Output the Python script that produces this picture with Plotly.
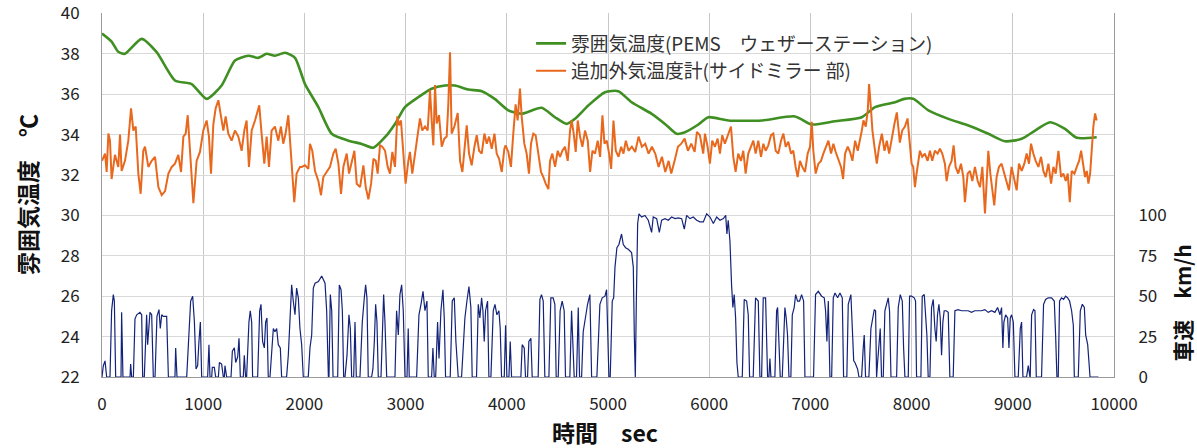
import plotly.graph_objects as go

# 雰囲気温度(PEMS ウェザーステーション): (time s, temp °C)
pems_points = [
    (0, 39.0), (95, 38.6), (160, 38.1), (227, 38.0), (391, 38.74), (540, 38.08), (721, 36.68), (886, 36.5),
    (1034, 35.77), (1182, 36.43), (1314, 37.67), (1446, 37.9), (1544, 37.8), (1627, 38.0), (1709, 37.9),
    (1808, 38.05), (1907, 37.8), (2006, 36.5), (2138, 35.36), (2270, 34.04), (2434, 33.7), (2566, 33.54),
    (2681, 33.35), (2796, 33.87), (2895, 34.53), (2994, 35.36), (3125, 35.85), (3257, 36.27), (3389, 36.43),
    (3488, 36.43), (3620, 36.23), (3752, 36.15), (3880, 35.77), (4015, 35.2), (4146, 35.03), (4344, 35.33),
    (4476, 34.86), (4591, 34.53), (4674, 34.78), (4805, 35.44), (4970, 36.1), (5102, 36.15), (5234, 35.6),
    (5432, 35.03), (5563, 34.53), (5679, 34.04), (5761, 34.12), (5893, 34.5), (5991, 34.86), (6189, 34.7),
    (6519, 34.7), (6848, 34.9), (7013, 34.5), (7243, 34.66), (7507, 34.86), (7639, 35.36), (7836, 35.6),
    (7928, 35.77), (8017, 35.77), (8166, 35.2), (8363, 34.78), (8561, 34.45), (8758, 34.04), (8923, 33.67),
    (9088, 33.79), (9220, 34.2), (9368, 34.61), (9516, 34.28), (9632, 33.84), (9829, 33.87),
]

# 追加外気温度計(サイドミラー部): (time s, temp °C)
mirror_points = [
    (0, 32.7), (30, 33.06), (46, 32.15), (63, 34.05), (79, 33.7), (95, 31.8), (128, 33.0), (161, 32.4), (178, 34.0), (194, 32.2),
    (227, 32.7), (260, 33.7), (287, 35.3), (310, 34.2), (333, 34.4), (359, 32.07), (382, 31.07), (408, 33.2), (425, 33.4), (458, 32.4),
    (491, 32.7), (524, 32.9), (557, 31.4), (590, 31.0), (623, 31.2), (656, 32.07), (689, 32.4), (721, 32.56), (754, 33.0), (781, 32.15),
    (804, 33.9), (827, 34.05), (847, 34.96), (864, 33.7), (886, 31.57), (903, 30.6), (935, 32.7), (968, 33.14), (1001, 34.2), (1034, 34.7),
    (1057, 33.9), (1077, 32.07), (1100, 34.5), (1123, 35.3), (1150, 35.7), (1176, 34.9), (1199, 34.2), (1222, 34.9), (1248, 34.05), (1281, 33.7),
    (1314, 34.2), (1347, 33.9), (1380, 33.2), (1406, 34.2), (1429, 34.7), (1452, 32.4), (1479, 34.2), (1512, 34.7), (1535, 35.2), (1554, 35.45),
    (1577, 34.05), (1604, 32.56), (1627, 33.9), (1650, 32.4), (1676, 34.2), (1709, 34.4), (1742, 33.7), (1768, 34.4), (1791, 33.55), (1814, 34.05),
    (1841, 34.96), (1867, 33.06), (1883, 31.7), (1900, 30.66), (1923, 32.07), (1956, 32.4), (1973, 32.4), (2006, 32.48), (2039, 32.3), (2055, 33.55),
    (2078, 33.2), (2105, 32.2), (2138, 31.7), (2164, 31.0), (2187, 31.9), (2220, 32.15), (2253, 32.4), (2286, 33.06), (2309, 33.3), (2336, 32.56),
    (2362, 31.07), (2385, 32.4), (2418, 33.06), (2441, 32.07), (2468, 32.7), (2494, 33.2), (2517, 31.57), (2550, 31.4), (2583, 32.48), (2606, 31.4),
    (2632, 30.8), (2659, 31.57), (2682, 32.8), (2705, 32.7), (2724, 32.07), (2747, 33.47), (2770, 33.4), (2797, 33.2), (2823, 32.4), (2846, 32.07),
    (2869, 33.14), (2895, 32.4), (2918, 34.9), (2935, 34.46), (2954, 34.7), (2977, 33.06), (3000, 31.57), (3027, 32.7), (3043, 33.14), (3066, 32.07),
    (3093, 33.06), (3119, 33.9), (3142, 34.8), (3165, 34.2), (3192, 34.4), (3218, 34.2), (3241, 36.2), (3258, 34.7), (3274, 33.47), (3291, 36.45),
    (3307, 34.55), (3330, 34.96), (3357, 33.4), (3383, 33.8), (3406, 33.9), (3422, 35.5), (3439, 38.07), (3455, 34.05), (3482, 34.4), (3515, 35.07),
    (3538, 32.7), (3561, 32.15), (3587, 33.55), (3604, 34.46), (3627, 33.06), (3653, 32.48), (3680, 33.4), (3703, 33.97), (3726, 33.2), (3752, 33.06),
    (3779, 34.05), (3802, 33.55), (3825, 33.9), (3851, 33.3), (3878, 34.05), (3900, 33.06), (3924, 32.8), (3950, 32.15), (3976, 33.3), (3988, 33.47),
    (4015, 33.14), (4041, 32.4), (4064, 34.05), (4087, 35.5), (4107, 34.7), (4130, 36.28), (4147, 34.9), (4173, 33.55), (4196, 33.06), (4219, 32.07),
    (4239, 33.55), (4262, 34.05), (4285, 33.97), (4312, 33.06), (4338, 32.15), (4361, 31.9), (4384, 31.57), (4411, 31.3), (4427, 32.7), (4450, 33.06),
    (4477, 32.4), (4503, 33.2), (4526, 32.9), (4549, 33.2), (4575, 33.4), (4602, 32.7), (4625, 34.2), (4641, 34.7), (4661, 34.05), (4681, 33.14),
    (4701, 34.7), (4724, 33.9), (4747, 33.4), (4773, 34.2), (4800, 33.7), (4823, 32.15), (4846, 33.2), (4872, 33.06), (4898, 33.7), (4922, 32.9),
    (4945, 34.96), (4965, 33.55), (4988, 33.7), (5011, 33.06), (5031, 32.3), (5054, 34.7), (5077, 33.2), (5104, 32.9), (5130, 33.4), (5153, 33.06),
    (5176, 33.7), (5203, 33.2), (5236, 33.4), (5269, 33.14), (5302, 33.9), (5335, 33.4), (5368, 33.55), (5401, 33.06), (5434, 33.4), (5467, 33.06),
    (5500, 32.4), (5533, 32.9), (5566, 32.15), (5599, 32.7), (5625, 32.07), (5658, 32.7), (5691, 33.4), (5724, 33.55), (5757, 33.8), (5790, 33.2),
    (5823, 33.55), (5856, 33.14), (5879, 34.13), (5908, 33.97), (5941, 33.06), (5958, 34.05), (5984, 33.4), (6007, 32.56), (6030, 33.7), (6057, 33.4),
    (6083, 33.8), (6106, 33.06), (6129, 33.97), (6155, 33.55), (6188, 34.05), (6215, 34.4), (6238, 32.9), (6261, 32.15), (6287, 33.06), (6314, 32.7),
    (6337, 33.2), (6360, 32.07), (6386, 33.06), (6413, 33.4), (6436, 33.7), (6459, 33.06), (6485, 33.7), (6512, 32.9), (6535, 33.55), (6558, 33.2),
    (6584, 33.47), (6611, 33.97), (6634, 34.05), (6657, 33.2), (6683, 33.06), (6710, 33.7), (6733, 34.05), (6756, 33.4), (6782, 33.65), (6808, 33.06),
    (6831, 33.2), (6854, 32.4), (6874, 31.9), (6897, 32.7), (6920, 32.4), (6947, 32.15), (6973, 33.06), (6996, 33.4), (7013, 34.63), (7029, 33.2),
    (7052, 32.07), (7079, 32.56), (7105, 32.7), (7128, 33.06), (7151, 33.4), (7178, 33.7), (7204, 33.06), (7227, 33.55), (7250, 33.14), (7277, 32.7),
    (7303, 32.4), (7323, 31.8), (7343, 33.06), (7369, 33.4), (7392, 33.14), (7415, 32.7), (7442, 33.7), (7468, 33.2), (7491, 33.7), (7508, 34.2),
    (7524, 34.7), (7547, 34.4), (7567, 35.2), (7580, 36.5), (7597, 35.37), (7613, 34.2), (7633, 33.4), (7656, 32.56), (7679, 33.4), (7706, 34.05),
    (7732, 33.2), (7755, 33.7), (7778, 33.06), (7805, 33.9), (7831, 34.55), (7854, 35.1), (7868, 34.4), (7884, 33.6), (7907, 34.2), (7934, 34.4),
    (7960, 34.8), (7983, 33.6), (8000, 32.56), (8016, 32.4), (8033, 31.4), (8049, 32.07), (8066, 32.56), (8082, 33.2), (8105, 32.9), (8131, 33.06),
    (8158, 32.7), (8181, 33.2), (8204, 32.7), (8230, 33.2), (8257, 33.06), (8280, 33.3), (8303, 33.06), (8329, 32.56), (8346, 31.7), (8369, 32.4),
    (8395, 32.7), (8415, 33.47), (8435, 32.4), (8461, 32.07), (8488, 32.56), (8511, 31.9), (8527, 30.66), (8554, 32.07), (8577, 32.2), (8600, 31.7),
    (8626, 32.4), (8653, 31.7), (8676, 31.4), (8699, 32.4), (8725, 30.1), (8744, 31.7), (8758, 33.2), (8778, 32.07), (8797, 31.4), (8817, 30.5),
    (8840, 31.9), (8863, 32.4), (8889, 32.56), (8916, 32.07), (8939, 31.57), (8962, 31.24), (8988, 32.4), (9015, 31.7), (9038, 31.24), (9061, 32.56),
    (9088, 32.2), (9114, 32.56), (9137, 33.06), (9160, 32.56), (9180, 33.55), (9203, 33.06), (9226, 32.7), (9253, 32.4), (9279, 32.9), (9302, 32.2),
    (9325, 31.9), (9352, 32.56), (9378, 31.57), (9401, 32.4), (9424, 32.07), (9451, 33.2), (9477, 31.9), (9500, 32.07), (9523, 31.7), (9543, 32.07),
    (9563, 30.66), (9582, 32.2), (9609, 32.07), (9632, 32.4), (9655, 32.7), (9675, 33.2), (9691, 32.56), (9714, 31.9), (9731, 32.2), (9747, 31.57),
    (9764, 32.07), (9780, 33.4), (9796, 34.4), (9813, 35.05), (9829, 34.7),
]

# 車速 km/h: (time s, speed)
speed_points = [
    (0, 0), (13, 7), (30, 10), (46, 0), (79, 0), (95, 41), (112, 51), (122, 47), (135, 0), (188, 0), (194, 40), (207, 0),
    (277, 0), (283, 8), (293, 0), (310, 0), (326, 36), (343, 38.5), (375, 40), (392, 38.5), (402, 0), (418, 0), (441, 38.5),
    (451, 20), (474, 40), (491, 38.5), (507, 0), (524, 0), (543, 37.5), (563, 41.7), (576, 30), (590, 38.5), (606, 37.5),
    (639, 37.5), (656, 0), (721, 0), (728, 18), (741, 0), (837, 0), (860, 30), (876, 47), (896, 50), (913, 34), (929, 5),
    (945, 7), (958, 22), (972, 34), (985, 0), (1044, 0), (1057, 20), (1067, 0), (1084, 0), (1090, 6), (1110, 6), (1123, 0),
    (1150, 0), (1160, 9), (1182, 8), (1199, 0), (1209, 0), (1215, 7), (1232, 0), (1275, 0), (1288, 16), (1308, 18), (1321, 9),
    (1341, 12.5), (1354, 24), (1367, 0), (1396, 0), (1406, 13.5), (1419, 0), (1429, 0), (1452, 34), (1465, 41), (1479, 34),
    (1488, 0), (1538, 0), (1558, 41), (1571, 45), (1587, 22), (1604, 18), (1617, 34), (1630, 36.5), (1643, 0), (1660, 0),
    (1676, 13.5), (1693, 30), (1709, 28), (1726, 30), (1742, 20), (1762, 18), (1775, 0), (1824, 0), (1841, 13.5), (1857, 34),
    (1874, 57), (1890, 47), (1907, 38.5), (1923, 55), (1940, 49), (1956, 30), (1973, 20), (1989, 0), (2038, 0), (2055, 18),
    (2072, 26), (2088, 55), (2105, 58), (2138, 59), (2171, 62.5), (2204, 58), (2220, 41), (2237, 0), (2243, 0), (2256, 51),
    (2270, 41), (2283, 0), (2329, 0), (2345, 57), (2362, 54), (2375, 41), (2388, 0), (2401, 0), (2421, 13.5), (2440, 38.5),
    (2454, 30), (2467, 0), (2487, 0), (2500, 34), (2513, 0), (2549, 0), (2572, 34), (2592, 49), (2605, 57), (2618, 49),
    (2631, 0), (2664, 0), (2677, 5), (2691, 22), (2704, 45), (2717, 34), (2730, 0), (2757, 0), (2773, 41), (2783, 51),
    (2796, 34), (2813, 0), (2895, 0), (2911, 41), (2928, 26), (2944, 51), (2961, 57), (2977, 41), (2994, 0), (3014, 0),
    (3026, 30), (3036, 0), (3109, 0), (3132, 38.5), (3152, 45), (3172, 53), (3191, 41), (3211, 47), (3224, 0), (3257, 0),
    (3270, 18), (3283, 0), (3297, 0), (3316, 34), (3330, 11.5), (3349, 41), (3369, 54), (3382, 36.5), (3395, 0), (3441, 0),
    (3461, 47), (3481, 49), (3497, 22), (3510, 11.5), (3520, 0), (3553, 0), (3586, 36.5), (3606, 47), (3626, 56), (3645, 43),
    (3658, 0), (3701, 0), (3718, 45), (3734, 36.5), (3751, 49), (3764, 41), (3777, 22), (3790, 41), (3810, 47), (3823, 0),
    (3843, 0), (3866, 41), (3883, 45), (3902, 38.5), (3922, 41), (3935, 30), (3948, 0), (3975, 0), (3988, 32), (4001, 0),
    (4021, 0), (4034, 22), (4047, 0), (4139, 0), (4152, 20), (4172, 18), (4185, 0), (4205, 0), (4218, 22), (4238, 24),
    (4251, 0), (4310, 0), (4327, 48), (4343, 51), (4360, 47), (4376, 0), (4416, 0), (4435, 49), (4458, 49), (4475, 45),
    (4488, 0), (4508, 0), (4527, 41), (4547, 47), (4567, 41), (4580, 0), (4623, 0), (4640, 41), (4653, 22), (4666, 0),
    (4689, 0), (4706, 43), (4719, 0), (4739, 0), (4755, 28), (4778, 38.5), (4798, 45), (4821, 51), (4838, 0), (4890, 0),
    (4905, 30), (4920, 45), (4943, 49), (4970, 50), (4986, 54), (4996, 26), (5009, 0), (5022, 0), (5042, 47), (5056, 49),
    (5069, 68), (5088, 80), (5108, 82), (5134, 88.5), (5151, 82), (5174, 80), (5200, 79), (5233, 77), (5250, 68), (5260, 26),
    (5270, 0), (5280, 47), (5293, 95), (5306, 101), (5332, 99), (5365, 100), (5398, 97), (5431, 89.5), (5447, 99), (5481, 98),
    (5507, 89.5), (5530, 97), (5563, 98), (5596, 97), (5629, 99), (5662, 98), (5695, 98.5), (5728, 98), (5754, 91.5), (5777, 100),
    (5810, 98), (5843, 99), (5876, 97), (5909, 96), (5942, 96), (5975, 101), (6008, 99), (6041, 95), (6074, 99), (6107, 97),
    (6140, 98), (6163, 100), (6175, 88.5), (6188, 97), (6205, 84), (6221, 57), (6234, 43), (6247, 51), (6261, 36.5), (6274, 9),
    (6287, 0), (6327, 0), (6346, 48), (6370, 47), (6386, 38.5), (6399, 0), (6435, 0), (6458, 49), (6485, 47), (6501, 0),
    (6518, 0), (6534, 49), (6557, 49), (6577, 0), (6590, 0), (6600, 11.5), (6610, 0), (6649, 0), (6666, 41), (6676, 43),
    (6689, 13.5), (6702, 0), (6722, 0), (6735, 18), (6748, 43), (6761, 36.5), (6774, 26), (6788, 0), (6807, 0), (6821, 38.5),
    (6840, 43), (6854, 51), (6873, 47), (6893, 47), (6913, 51), (6933, 47), (6946, 0), (7031, 0), (7051, 51), (7078, 53),
    (7111, 50), (7137, 49), (7150, 41), (7163, 22), (7177, 47), (7193, 0), (7210, 0), (7226, 49), (7243, 52), (7269, 49),
    (7292, 52), (7315, 49), (7328, 0), (7360, 0), (7374, 45), (7400, 51), (7413, 26), (7428, 10), (7440, 9), (7466, 5),
    (7480, 0), (7506, 0), (7522, 18), (7532, 26), (7545, 0), (7578, 0), (7598, 30), (7618, 38.5), (7631, 41.7), (7644, 41),
    (7654, 0), (7664, 9), (7677, 18), (7690, 30), (7703, 0), (7720, 0), (7736, 41), (7756, 47), (7769, 49), (7782, 41),
    (7796, 0), (7852, 0), (7868, 43), (7888, 51), (7908, 47), (7921, 18), (7934, 0), (7967, 0), (7980, 50), (8000, 50),
    (8026, 49), (8039, 47), (8049, 0), (8092, 0), (8105, 50), (8125, 51), (8138, 38.5), (8151, 26), (8164, 0), (8181, 0),
    (8197, 43), (8214, 48), (8230, 30), (8243, 22), (8256, 38.5), (8270, 45), (8283, 36.5), (8296, 13.5), (8309, 34), (8322, 41),
    (8342, 41), (8362, 40), (8378, 0), (8411, 0), (8428, 41), (8460, 41.7), (8493, 41), (8526, 41), (8559, 41), (8592, 40),
    (8625, 41), (8658, 41), (8691, 41), (8724, 41.7), (8757, 40), (8790, 41), (8823, 40), (8850, 43), (8873, 38.5), (8889, 43),
    (8902, 18), (8912, 34), (8929, 38.5), (8949, 36.5), (8962, 18), (8975, 36.5), (8988, 38.5), (9005, 34), (9021, 0), (9054, 0),
    (9074, 30), (9087, 34), (9100, 0), (9136, 0), (9153, 7), (9169, 0), (9172, 0), (9186, 38.5), (9205, 41.7), (9219, 41),
    (9232, 0), (9284, 0), (9304, 45), (9324, 48), (9350, 49), (9383, 49), (9410, 47), (9423, 26), (9436, 0), (9449, 0),
    (9462, 47), (9482, 49), (9502, 48), (9522, 50), (9542, 49), (9561, 47), (9581, 41), (9598, 32), (9608, 0), (9647, 0),
    (9667, 41), (9687, 45), (9707, 43), (9720, 26), (9740, 20), (9753, 9), (9763, 0), (9846, 0),
]

x_ticks = [0, 1000, 2000, 3000, 4000, 5000, 6000, 7000, 8000, 9000, 10000]
x_tick_labels = ["0", "1000", "2000", "3000", "4000", "5000", "6000", "7000", "8000", "9000", "10000"]
left_ticks = [22, 24, 26, 28, 30, 32, 34, 36, 38, 40]
right_ticks = [0, 25, 50, 75, 100]

pems_t, pems_v = zip(*pems_points)
mirror_t, mirror_v = zip(*mirror_points)
speed_t, speed_v = zip(*speed_points)

FONT = "Noto Sans CJK JP, sans-serif"

fig = go.Figure()
fig.add_trace(go.Scatter(x=speed_t, y=speed_v, mode="lines", yaxis="y2",
                         line=dict(color="#14237a", width=1.2), showlegend=False, name="車速"))
fig.add_trace(go.Scatter(x=pems_t, y=pems_v, mode="lines",
                         line=dict(color="#3f8f22", width=2.6, shape="spline", smoothing=0.6),
                         name="雰囲気温度(PEMS\u3000ウェザーステーション)"))
fig.add_trace(go.Scatter(x=mirror_t, y=mirror_v, mode="lines",
                         line=dict(color="#e8691e", width=2.0),
                         name="追加外気温度計(サイドミラー 部)"))

title_font = dict(family=FONT, size=23, color="#111111", weight="bold")

fig.update_layout(
    width=1197, height=448,
    margin=dict(l=102, r=83, t=13, b=71, autoexpand=False),
    paper_bgcolor="white", plot_bgcolor="white",
    font=dict(family=FONT, size=17, color="#222222"),
    legend=dict(x=0.424, y=0.968, xanchor="left", yanchor="top",
                bgcolor="rgba(255,255,255,0)", font=dict(size=18.8, color="#333333"),
                tracegroupgap=0),
    xaxis=dict(range=[0, 10000], tickvals=x_ticks, ticktext=x_tick_labels, showgrid=True,
               gridcolor="#c9c9c9", gridwidth=1, automargin=False,
               showline=True, linecolor="#9a9a9a", linewidth=1, ticks="", zeroline=False,
               ticklabelstandoff=12, ticklabeloverflow="allow", tickfont=dict(size=17)),
    yaxis=dict(range=[22, 40.02], tickvals=left_ticks, showgrid=True, gridcolor="#d9d9d9", gridwidth=1,
               showline=True, linecolor="#9a9a9a", linewidth=1, ticks="", zeroline=False,
               automargin=False, ticklabelstandoff=18, ticklabeloverflow="allow", tickfont=dict(size=17)),
    yaxis2=dict(range=[0, 225.25], tickvals=right_ticks, overlaying="y", side="right", showgrid=False,
                showline=True, linecolor="#9a9a9a", linewidth=1, ticks="", zeroline=False,
                automargin=False, ticklabelstandoff=20, ticklabeloverflow="allow", tickfont=dict(size=17)),
    annotations=[
        dict(text="時間\u3000sec", xref="paper", yref="paper", x=0.497, y=-0.152,
             xanchor="center", yanchor="middle", showarrow=False, font=title_font),
        dict(text="雰囲気温度\u3000℃", xref="paper", yref="paper", x=-0.074, y=0.5,
             xanchor="center", yanchor="middle", textangle=-90, showarrow=False, font=title_font),
        dict(text="車速\u3000km/h", xref="paper", yref="paper", x=1.0675, y=0.205,
             xanchor="center", yanchor="middle", textangle=-90, showarrow=False,
             font=dict(title_font, size=21)),
    ],
)

# Remove the page's default 8 px body margin so the figure fills the window exactly.
fig.write_html("out.html", config={"displayModeBar": False},
               post_script="document.body.style.margin='0';document.body.style.overflow='hidden';")
